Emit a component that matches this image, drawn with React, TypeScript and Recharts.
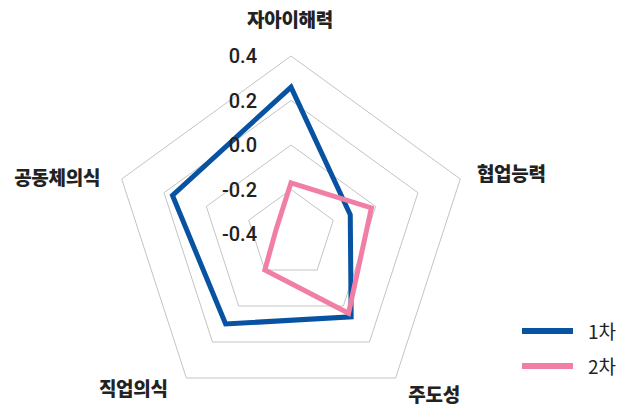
import { RadarChart, Radar, PolarGrid, PolarAngleAxis, PolarRadiusAxis, Legend } from 'recharts'

const categories = ['자아이해력', '협업능력', '주도성', '직업의식', '공동체의식']
const round1 = [0.26, -0.12, 0.06, 0.1, 0.16]
const round2 = [-0.17, -0.02, 0.04, -0.2, -0.33]
const radiusTicks = [-0.4, -0.2, 0, 0.2, 0.4]

const data = categories.map((name, i) => ({ name, r1: round1[i], r2: round2[i] }))

const CX = 291
const CY = 234
const R = 178
const BLUE = '#0752a1'
const PINK = '#f17fa5'
const FONT = '"Noto Sans CJK KR", "Noto Sans", sans-serif'

// label placement tweaks per axis (anchor + nudge from the radial point)
const labelPos: Record<string, { anchor: 'start' | 'middle' | 'end'; dx: number; dy: number }> = {
  '자아이해력': { anchor: 'middle', dx: -1, dy: -30 },
  '협업능력': { anchor: 'start', dx: 9, dy: -4 },
  '주도성': { anchor: 'start', dx: 8, dy: 9 },
  '직업의식': { anchor: 'end', dx: -14, dy: 3 },
  '공동체의식': { anchor: 'end', dx: -14, dy: 0 },
}

function AngleTick(props: any) {
  const { payload } = props
  const a = (payload.coordinate * Math.PI) / 180
  const r = R + 8
  const x = CX + r * Math.cos(a)
  const y = CY - r * Math.sin(a)
  const p = labelPos[payload.value] || { anchor: 'middle', dx: 0, dy: 0 }
  return (
    <text x={x + p.dx} y={y + p.dy} textAnchor={p.anchor} dominantBaseline="central"
      fontFamily={FONT} fontSize={19} fontWeight={900} fill="#222" letterSpacing={-0.3}>
      {payload.value}
    </text>
  )
}

function RadiusTick(props: any) {
  const { x, y, payload } = props
  return (
    <text x={x - 34} y={y} textAnchor="end" dominantBaseline="central"
      fontFamily="Roboto, sans-serif" fontSize={20} fontWeight={500} fill="#222">
      {Number(payload.value).toFixed(1)}
    </text>
  )
}

function LegendBox() {
  const items = [
    { label: '1차', color: BLUE },
    { label: '2차', color: PINK },
  ]
  return (
    <div>
      {items.map(it => (
        <div key={it.label} style={{ display: 'flex', alignItems: 'center', height: 35 }}>
          <div style={{ width: 51, height: 6, background: it.color, marginRight: 15 }} />
          <span style={{ fontFamily: FONT, fontSize: 19, color: '#222' }}>{it.label}</span>
        </div>
      ))}
    </div>
  )
}

export default function App() {
  return (
    <div style={{ position: 'absolute', left: 0, top: 0, width: 622, height: 407, background: '#fff' }}>
      <RadarChart width={622} height={407} data={data} cx={CX} cy={CY} outerRadius={R}
        margin={{ top: 0, right: 0, bottom: 0, left: 0 }}>
        <PolarGrid gridType="polygon" radialLines={false} stroke="#c4c4c4" strokeWidth={1} />
        <PolarAngleAxis dataKey="name" tick={<AngleTick />} tickLine={false} axisLine={false} />
        <PolarRadiusAxis angle={90} domain={[-0.4, 0.4]} ticks={radiusTicks} tickCount={5}
          axisLine={false} tickLine={false} tick={<RadiusTick />} />
        <Radar name="1차" dataKey="r1" stroke={BLUE} strokeWidth={5} fill="none" fillOpacity={0}
          isAnimationActive={false} dot={false} />
        <Radar name="2차" dataKey="r2" stroke={PINK} strokeWidth={5} fill="none" fillOpacity={0}
          isAnimationActive={false} dot={false} />
        <Legend content={<LegendBox />} wrapperStyle={{ position: 'absolute', left: 522, top: 313, width: 100 }} />
      </RadarChart>
    </div>
  )
}
